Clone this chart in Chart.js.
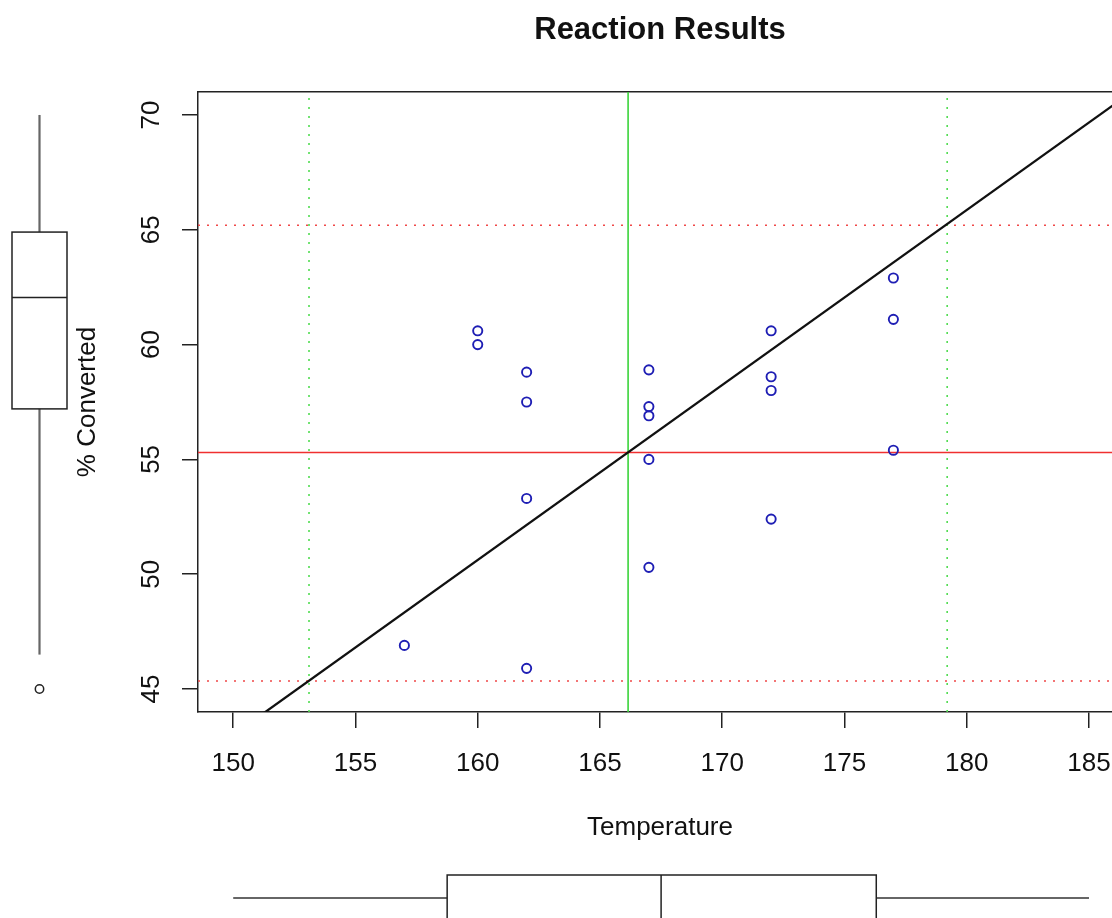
<!DOCTYPE html>
<html>
<head>
<meta charset="utf-8">
<title>Reaction Results</title>
<script src="https://cdn.jsdelivr.net/npm/chart.js@4.4.0/dist/chart.umd.min.js"></script>
<style>
  html, body { margin: 0; padding: 0; background: #fff; overflow: hidden; }
  #wrap { width: 1112px; height: 918px; overflow: hidden; }
</style>
</head>
<body>
<div id="wrap"><canvas id="chart" width="1122" height="918"></canvas></div>
<script>
// values
const temperature = [157, 160, 160, 162, 162, 162, 162, 167, 167, 167, 167, 167, 172, 172, 172, 172, 177, 177, 177];
const converted = [46.9, 60.6, 60.0, 58.8, 57.5, 53.3, 45.9, 58.9, 57.3, 56.9, 55.0, 50.3, 60.6, 58.6, 58.0, 52.4, 62.9, 61.1, 55.4];

// reference lines: means, mean +/- 2 sd, least squares fit
const tempMean = 166.15;
const tempLimits = [153.1, 179.2];
const convMean = 55.3;
const convLimits = [45.35, 65.2];
const regIntercept = -71.3;
const regSlope = 0.762;

// marginal boxplots: low whisker, q1, median, q3, high whisker
const tempBox = [150, 158.75, 167.5, 176.3, 185];
const convBox = [46.5, 57.2, 62.05, 64.9, 70.0];
const convOutliers = [45.0];

// axis ranges and tick step
const xRange = [148.56, 186.35];
const yRange = [44.0, 71.0];
const tickStep = 5;

Chart.defaults.font.family = '"Liberation Sans", Arial, Helvetica, sans-serif';
Chart.defaults.color = '#111';

const pts = (xs, ys) => xs.map((v, i) => ({x: v, y: ys[i]}));
const fit = t => regIntercept + regSlope * t;

function refLine(data, color, width, dash) {
  return {
    data: data,
    showLine: true,
    borderColor: color,
    borderWidth: width,
    borderDash: dash || [],
    pointRadius: 0,
    pointHoverRadius: 0,
    fill: false,
    clip: 0
  };
}

const axisColor = '#222';

// keep the plot frame where it is: no extra room for edge tick labels
function noLabelPadding(scale) {
  scale.paddingLeft = 0;
  scale.paddingRight = 0;
  scale.paddingTop = 0;
  scale.paddingBottom = 0;
}

const boxPlots = {
  id: 'boxPlots',
  afterDraw(chart) {
    const {ctx, scales: {x, y}} = chart;
    const seg = (x1, y1, x2, y2) => {
      ctx.beginPath(); ctx.moveTo(x1, y1); ctx.lineTo(x2, y2); ctx.stroke();
    };
    ctx.save();

    // temperature, under the x axis
    const [tLo, tQ1, tMed, tQ3, tHi] = tempBox.map(v => x.getPixelForValue(v));
    const cy = 898, hh = 23;
    ctx.strokeStyle = '#666'; ctx.lineWidth = 2.2;
    seg(tLo, cy, tQ1, cy);
    seg(tQ3, cy, tHi, cy);
    ctx.strokeStyle = axisColor; ctx.lineWidth = 1.5;
    ctx.strokeRect(tQ1, cy - hh, tQ3 - tQ1, hh * 2);
    seg(tMed, cy - hh, tMed, cy + hh);

    // % converted, left of the y axis
    const [cLo, cQ1, cMed, cQ3, cHi] = convBox.map(v => y.getPixelForValue(v));
    const cx = 39.5, hw = 27.5;
    ctx.strokeStyle = '#666'; ctx.lineWidth = 2.2;
    seg(cx, cLo, cx, cQ1);
    seg(cx, cQ3, cx, cHi);
    ctx.strokeStyle = axisColor; ctx.lineWidth = 1.5;
    ctx.strokeRect(cx - hw, cQ3, hw * 2, cQ1 - cQ3);
    seg(cx - hw, cMed, cx + hw, cMed);
    convOutliers.forEach(v => {
      ctx.beginPath();
      ctx.arc(cx, y.getPixelForValue(v), 4.2, 0, Math.PI * 2);
      ctx.stroke();
    });
    ctx.restore();
  }
};

new Chart(document.getElementById('chart'), {
  type: 'scatter',
  data: {
    datasets: [
      {
        data: pts(temperature, converted),
        pointStyle: 'circle',
        pointRadius: 4.6,
        pointHoverRadius: 4.6,
        pointBorderWidth: 1.9,
        pointBorderColor: '#1e1eb4',
        pointBackgroundColor: 'rgba(0,0,0,0)',
        showLine: false
      },
      refLine(pts(xRange, xRange.map(fit)), '#111', 2.3),
      refLine(pts(xRange, [convMean, convMean]), '#f03030', 1.5),
      refLine(pts([tempMean, tempMean], yRange), '#3ad43a', 1.6),
      refLine(pts(xRange, [convLimits[0], convLimits[0]]), '#f04848', 1.6, [2, 7]),
      refLine(pts(xRange, [convLimits[1], convLimits[1]]), '#f04848', 1.6, [2, 7]),
      refLine(pts([tempLimits[0], tempLimits[0]], yRange), '#50dc50', 1.6, [2, 7]),
      refLine(pts([tempLimits[1], tempLimits[1]], yRange), '#50dc50', 1.6, [2, 7])
    ]
  },
  options: {
    responsive: false,
    animation: false,
    events: [],
    layout: {autoPadding: false, padding: {left: 0, top: 0, right: 0, bottom: 60}},
    plugins: {
      legend: {display: false},
      tooltip: {enabled: false},
      title: {display: false}
    },
    scales: {
      x: {
        type: 'linear',
        position: 'bottom',
        min: xRange[0],
        max: xRange[1],
        ticks: {stepSize: tickStep, includeBounds: false, font: {size: 26}, padding: 20, maxRotation: 0},
        grid: {drawOnChartArea: false, drawTicks: true, tickLength: 16, color: axisColor, tickColor: axisColor, lineWidth: 1.5},
        border: {color: axisColor, width: 1.5},
        title: {display: true, text: 'Temperature', font: {size: 26}, padding: {top: 0, bottom: 14.4}},
        afterFit(scale) { noLabelPadding(scale); scale.height = 146; }
      },
      xTop: {
        type: 'linear',
        position: 'top',
        min: xRange[0],
        max: xRange[1],
        ticks: {display: false},
        grid: {display: false, drawTicks: false},
        border: {display: true, color: axisColor, width: 1.5},
        title: {display: true, text: 'Reaction Results', font: {size: 31, weight: 'bold'}, padding: {top: 11.5, bottom: 0}},
        afterFit(scale) { noLabelPadding(scale); scale.height = 92; }
      },
      y: {
        type: 'linear',
        position: 'left',
        min: yRange[0],
        max: yRange[1],
        ticks: {stepSize: tickStep, includeBounds: false, font: {size: 26}, minRotation: 90, maxRotation: 90, crossAlign: 'center', padding: 16},
        grid: {drawOnChartArea: false, drawTicks: true, tickLength: 16, color: axisColor, tickColor: axisColor, lineWidth: 1.5},
        border: {color: axisColor, width: 1.5},
        title: {display: true, text: '% Converted', font: {size: 26}, padding: {top: 72.4, bottom: 0}},
        afterFit(scale) { noLabelPadding(scale); scale.width = 198; }
      }
    }
  },
  plugins: [boxPlots]
});
</script>
</body>
</html>
